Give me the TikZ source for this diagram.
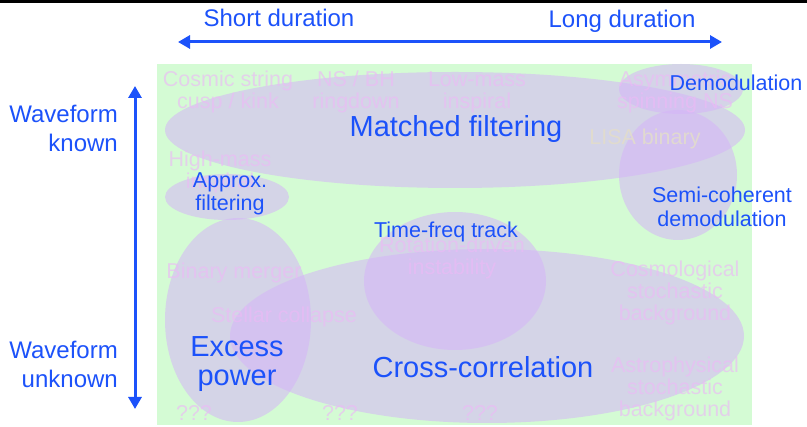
\documentclass[tikz,border=0pt]{standalone}
\usepackage{fontspec}
\setmainfont{Liberation Sans}
\usetikzlibrary{arrows.meta}

\definecolor{labelblue}{RGB}{28,82,250}
\definecolor{bggreen}{RGB}{212,251,212}
\definecolor{blobfill}{RGB}{212,180,248}
\definecolor{ghost}{RGB}{236,186,246}
\definecolor{lisatext}{RGB}{226,220,204}

\newcommand{\smallsize}{\fontsize{21.5}{22}\selectfont}
\newcommand{\bigsize}{\fontsize{29}{29}\selectfont}
\newcommand{\axissize}{\fontsize{24}{29}\selectfont}

\tikzset{
  method/.style={fill=blobfill, fill opacity=0.55},
  source/.style={text=ghost, text opacity=0.65, font=\smallsize, align=center, inner sep=0pt},
  tech/.style={text=labelblue, font=\fontsize{21.5}{23.5}\selectfont, align=center, inner sep=0pt},
  techbig/.style={tech, font=\bigsize},
  axislabel/.style={text=labelblue, font=\axissize, inner sep=0pt},
  axisarrow/.style={draw=labelblue, line width=3pt,
    {Triangle[length=12pt,width=13pt]}-{Triangle[length=12pt,width=13pt]}}
}

\begin{document}
\begin{tikzpicture}[x=1pt, y=-1pt]
        \useasboundingbox (0,0) rectangle (807,427);
        \fill[white] (0,0) rectangle (807,427);
        \fill[black] (0,0) rectangle (807,3);

        % duration axis
        \node[axislabel] (short) at (279,18) {Short duration};
        \node[axislabel] (long) at (622,21) {Long duration};
        \coordinate (hleft) at (178,42);
        \coordinate (hright) at (722,42);
        \draw[axisarrow] (hleft) -- (hright);

        % waveform axis
        \node[axislabel, align=right, anchor=east] (known) at (118,128) {Waveform\\known};
        \node[axislabel, align=right, anchor=east] (unknown) at (118,364) {Waveform\\unknown};
        \coordinate (vtop) at (135,86);
        \coordinate (vbot) at (135,409);
        \draw[axisarrow] (vtop) -- (vbot);

        % background
        \fill[bggreen] (157,64) rectangle (752,425);

        % methods
        \fill[method] (455,130) ellipse [x radius=290pt, y radius=58pt];
        \fill[method] (681,89) ellipse [x radius=62pt, y radius=25pt];
        \fill[method] (678,175) ellipse [x radius=59pt, y radius=65pt];
        \fill[method] (227,197) ellipse [x radius=62pt, y radius=23pt];
        \fill[method] (238,320) ellipse [x radius=73pt, y radius=102pt];
        \fill[method] (487,336) ellipse [x radius=257pt, y radius=87pt];
        \fill[method] (455,281) ellipse [x radius=91pt, y radius=69pt];

        % sources
        \node[source] (cosmic) at (228,92) {Cosmic string\\cusp / kink};
        \node[source] (ringdown) at (356,92) {NS / BH\\ringdown};
        \node[source] (lowmass) at (477,92) {Low-mass\\inspiral};
        \node[source] (asym) at (675,92) {Asymmetric\\spinning NS};
        \node[source, text=lisatext, text opacity=0.9] (lisa) at (645,139) {LISA binary};
        \node[source] (highmass) at (220,172) {High-mass\\inspiral};
        \node[source] (merger) at (234,273) {Binary merger};
        \node[source] (rotation) at (452,258) {Rotation-driven\\instability};
        \node[source] (collapse) at (284,317) {Stellar collapse};
        \node[source] (cosmo) at (675,293) {Cosmological\\stochastic\\background};
        \node[source] (astro) at (675,389) {Astrophysical\\stochastic\\background};
        \node[source] (unkA) at (194,413) {???};
        \node[source] (unkB) at (340,413) {???};
        \node[source] (unkC) at (480,413) {???};

        % techniques
        \node[techbig] (matched) at (456,129) {Matched filtering};
        \node[tech] (demod) at (736,83) {Demodulation};
        \node[tech] (semi) at (722,207) {Semi-coherent\\demodulation};
        \node[tech] (approx) at (230,194) {Approx.\\filtering};
        \node[tech] (tftrack) at (446,232) {Time-freq track};
        \node[techbig] (excess) at (237,364) {Excess\\power};
        \node[techbig] (crosscorr) at (483,367) {Cross-correlation};
\end{tikzpicture}
\end{document}
